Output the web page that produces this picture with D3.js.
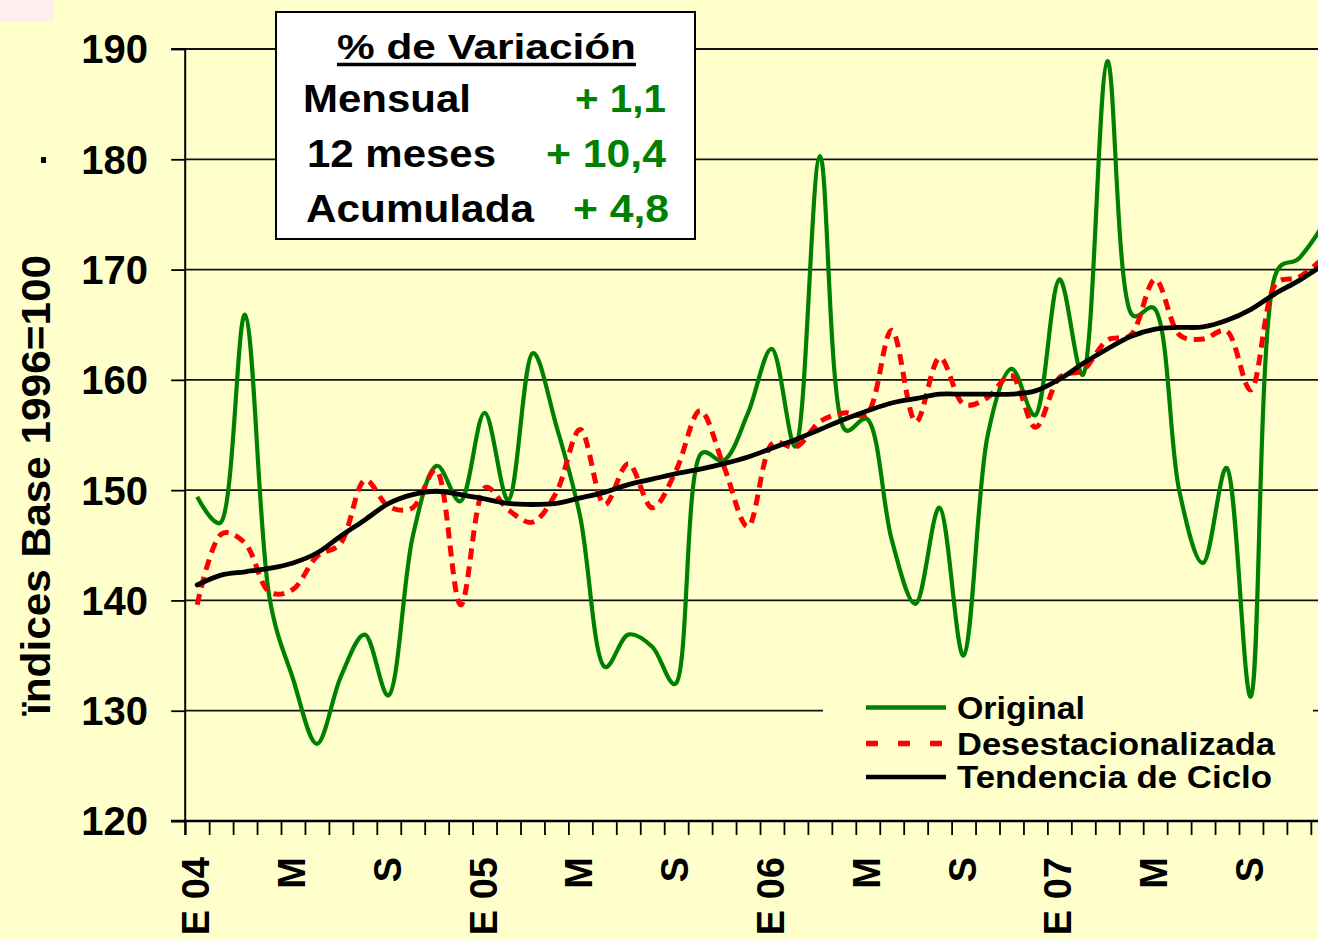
<!DOCTYPE html>
<html><head><meta charset="utf-8">
<script src="https://cdn.jsdelivr.net/npm/d3@7"></script>
<style>
html,body{margin:0;padding:0;background:#FFFFCC;}
svg{display:block;}
text{font-family:"Liberation Sans",Arial,sans-serif;font-weight:bold;}
</style></head>
<body>
<svg id="chart" width="1318" height="940"></svg>
<script>
// ---- DATA ----
const months = d3.range(0, 48); // Jan 2004 .. Dec 2007
const original = [149.4,147.1,165.9,140.5,132.9,127.0,133.1,136.9,131.4,145.8,152.2,149.0,
                  157.0,149.1,162.4,155.8,147.5,134.0,136.9,135.8,132.5,153.2,152.7,157.0,
                  162.8,154.0,180.3,155.6,156.4,145.5,139.7,148.4,135.0,154.9,161.0,156.8,
                  169.1,160.5,188.9,166.0,166.4,150.0,143.4,152.0,131.3,169.4,171.0,174.0];
const desest = [139.6,146.0,145.2,140.8,141.0,144.0,145.2,150.9,148.5,148.4,151.8,139.6,
                150.2,148.2,147.1,149.8,155.5,148.7,152.4,148.4,151.8,157.2,152.1,146.7,
                154.2,153.9,156.2,157.0,157.0,164.5,156.2,162.0,157.8,158.4,160.4,155.7,
                160.2,160.9,163.6,164.1,169.1,164.1,163.7,164.4,159.1,168.6,169.3,171.0];
const tendencia = [141.4,142.3,142.6,142.9,143.4,144.3,145.85,147.3,148.8,149.6,149.9,149.6,
                   149.2,148.8,148.7,148.8,149.3,149.8,150.5,151.0,151.5,151.9,152.4,153.0,
                   153.8,154.6,155.5,156.4,157.2,157.9,158.3,158.7,158.7,158.7,158.7,159.0,
                   160.05,161.5,162.8,163.95,164.6,164.75,164.8,165.4,166.4,167.8,169.0,170.4];
const xLabelIdx = [0,4,8,12,16,20,24,28,32,36,40,44];
const xLabels = ["E 04","M","S","E 05","M","S","E 06","M","S","E 07","M","S"];
const yTicks = [120,130,140,150,160,170,180,190];
const boxRows = ["Mensual","12 meses","Acumulada"];
const boxVals = ["+ 1,1","+ 10,4","+ 4,8"];
const legendNames = ["Original","Desestacionalizada","Tendencia de Ciclo"];

// ---- SCALES ----
const svg = d3.select("#chart");
const x = d3.scaleLinear().domain([-0.5, 47.5]).range([185.2, 185.2 + 48*23.95]);
const y = d3.scaleLinear().domain([120, 190]).range([821, 49]);
const W = 1318;
const green = "#008000", red = "#FF0000";

// background
svg.append("rect").attr("width",W).attr("height",940).attr("fill","#FFFFCC");
svg.append("rect").attr("x",0).attr("y",0).attr("width",54).attr("height",22).attr("fill","#FFEFEF");

// gridlines
svg.append("g").selectAll("line").data(yTicks.filter(d=>d>120)).join("line")
  .attr("x1",x(-0.5)).attr("x2",W).attr("y1",d=>y(d)).attr("y2",d=>y(d))
  .attr("stroke","#111").attr("stroke-width",1.8);

// y axis
const yAxis = d3.axisLeft(y).tickValues(yTicks).tickSize(14).tickFormat("");
const gy = svg.append("g").attr("transform",`translate(${x(-0.5)},0)`).call(yAxis);
gy.select(".domain").attr("stroke","#000").attr("stroke-width",2).attr("d",`M-14,${y(190)}H0V${y(120)+14}`);
gy.selectAll(".tick line").attr("stroke","#000").attr("stroke-width",1.8);
svg.append("g").selectAll("text").data(yTicks).join("text")
  .attr("x",148).attr("y",d=>y(d)).attr("dy","0.36em").attr("text-anchor","end")
  .attr("font-size",40).attr("fill","#000").text(d=>d);

// x axis
const xAxis = d3.axisBottom(x).tickValues(d3.range(-0.5, 48, 1)).tickSize(14).tickFormat("").tickSizeOuter(0);
const gx = svg.append("g").attr("transform",`translate(0,${y(120)})`).call(xAxis);
gx.select(".domain").attr("stroke","#000").attr("stroke-width",2.5).attr("d",`M171,0H${W}`);
gx.selectAll(".tick line").attr("stroke","#000").attr("stroke-width",1.8);
svg.append("g").selectAll("text").data(xLabelIdx).join("text")
  .attr("transform",d=>`translate(${x(d)-2},857) rotate(-90)`)
  .attr("dy","0.37em").attr("text-anchor","end").attr("font-size",38).attr("fill","#000")
  .text((d,i)=>xLabels[i]);

// y title
svg.append("text").attr("transform","translate(50,485) rotate(-90)")
  .attr("text-anchor","middle").attr("font-size",41).attr("fill","#000")
  .attr("textLength",460).attr("lengthAdjust","spacingAndGlyphs")
  .text("ïndices Base 1996=100");
svg.append("rect").attr("x",41).attr("y",157).attr("width",5).attr("height",6).attr("fill","#000");

// series
const line = d3.line().x((d,i)=>x(months[i])).y(d=>y(d)).curve(d3.curveCatmullRom.alpha(0.35));
svg.append("path").attr("d",line(original)).attr("fill","none").attr("stroke",green).attr("stroke-width",4.2).attr("stroke-linejoin","round");
svg.append("path").attr("d",line(desest)).attr("fill","none").attr("stroke",red).attr("stroke-width",5).attr("stroke-dasharray","11,7");
svg.append("path").attr("d",line(tendencia)).attr("fill","none").attr("stroke","#000").attr("stroke-width",4.8).attr("stroke-linecap","round");

// legend
svg.append("rect").attr("x",823).attr("y",702).attr("width",490).attr("height",98).attr("fill","#FFFFCC");
const legY = [707.5, 743.5, 777];
const legStroke = [green, red, "#000"];
const lg = svg.append("g");
legendNames.forEach((n,i)=>{
  lg.append("line").attr("x1",866).attr("x2",946).attr("y1",legY[i]).attr("y2",legY[i])
    .attr("stroke",legStroke[i]).attr("stroke-width",i===1?5.5:4.5)
    .attr("stroke-dasharray",i===1?"12,20":null);
});
const legTextW = [128, 318, 315];
legendNames.forEach((n,i)=>{
  lg.append("text").attr("x",957).attr("y",legY[i]+11).attr("font-size",32).attr("fill","#000")
    .attr("textLength",legTextW[i]).attr("lengthAdjust","spacingAndGlyphs").text(n);
});

// inset box
const box = svg.append("g");
box.append("rect").attr("x",276).attr("y",12).attr("width",419).attr("height",227)
  .attr("fill","#fff").attr("stroke","#000").attr("stroke-width",2);
box.append("text").attr("x",337).attr("y",59).attr("font-size",35).attr("fill","#000")
  .attr("textLength",299).attr("lengthAdjust","spacingAndGlyphs").text("% de Variación");
box.append("line").attr("x1",337).attr("x2",636).attr("y1",64.5).attr("y2",64.5).attr("stroke","#000").attr("stroke-width",3.5);
const rowY = [111.5, 166.5, 221.5];
const rowX = [303, 307, 306];
const rowW = [168, 189, 228];
const valX = [575, 546, 573];
const valW = [91, 120, 96];
boxRows.forEach((r,i)=>{
  box.append("text").attr("x",rowX[i]).attr("y",rowY[i]).attr("font-size",38).attr("fill","#000")
    .attr("textLength",rowW[i]).attr("lengthAdjust","spacingAndGlyphs").text(r);
  box.append("text").attr("x",valX[i]).attr("y",rowY[i]).attr("font-size",38).attr("fill",green)
    .attr("textLength",valW[i]).attr("lengthAdjust","spacingAndGlyphs").text(boxVals[i]);
});
</script>
</body></html>
